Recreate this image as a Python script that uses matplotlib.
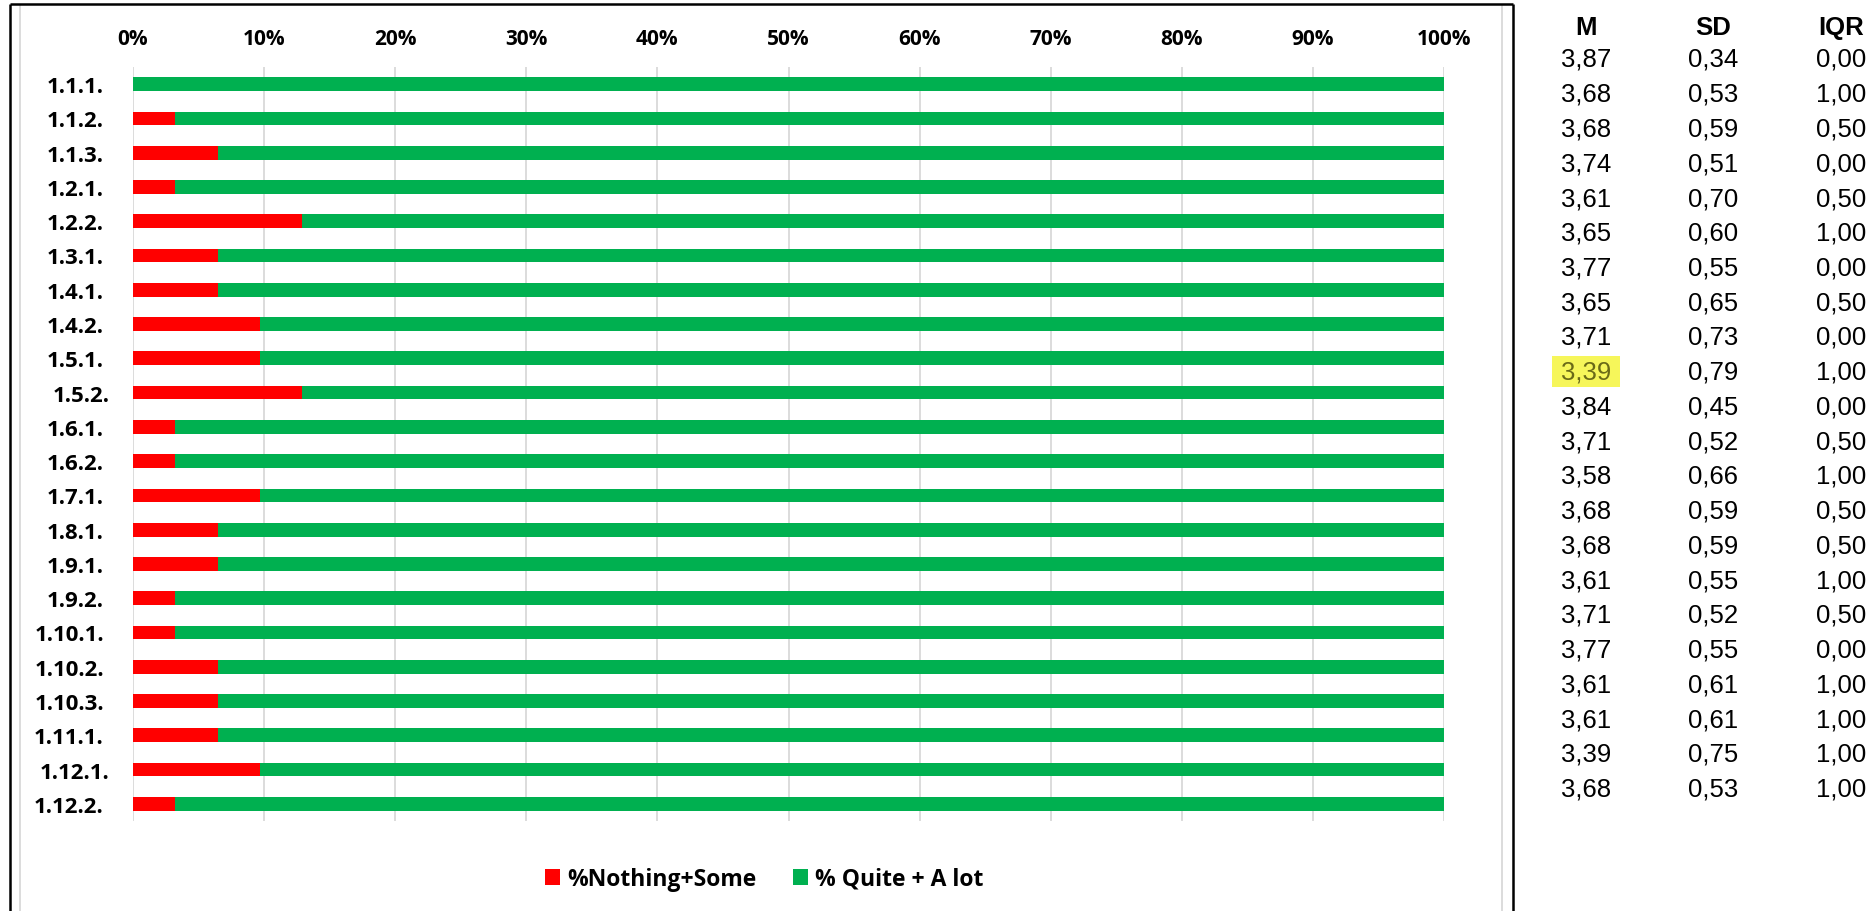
import numpy as np
import matplotlib
matplotlib.use("Agg")
import matplotlib.pyplot as plt
from matplotlib.lines import Line2D
from matplotlib.patches import Rectangle
from matplotlib.transforms import ScaledTranslation

# data (N = 31 answers per item)
items = ['1.1.1.', '1.1.2.', '1.1.3.', '1.2.1.', '1.2.2.', '1.3.1.', '1.4.1.', '1.4.2.',
         '1.5.1.', '1.5.2.', '1.6.1.', '1.6.2.', '1.7.1.', '1.8.1.', '1.9.1.', '1.9.2.',
         '1.10.1.', '1.10.2.', '1.10.3.', '1.11.1.', '1.12.1.', '1.12.2.']
nothingSome = [0.0, 3.2, 6.5, 3.2, 12.9, 6.5, 6.5, 9.7, 9.7, 12.9, 3.2, 3.2,
               9.7, 6.5, 6.5, 3.2, 3.2, 6.5, 6.5, 6.5, 9.7, 3.2]
quiteAlot = [100.0, 96.8, 93.5, 96.8, 87.1, 93.5, 93.5, 90.3, 90.3, 87.1, 96.8, 96.8,
             90.3, 93.5, 93.5, 96.8, 96.8, 93.5, 93.5, 93.5, 90.3, 96.8]
meanList = [3.87, 3.68, 3.68, 3.74, 3.61, 3.65, 3.77, 3.65, 3.71, 3.39, 3.84,
            3.71, 3.58, 3.68, 3.68, 3.61, 3.71, 3.77, 3.61, 3.61, 3.39, 3.68]
sdList = [0.34, 0.53, 0.59, 0.51, 0.70, 0.60, 0.55, 0.65, 0.73, 0.79, 0.45,
          0.52, 0.66, 0.59, 0.59, 0.55, 0.52, 0.55, 0.61, 0.61, 0.75, 0.53]
iqrList = [0.00, 1.00, 0.50, 0.00, 0.50, 1.00, 0.00, 0.50, 0.00, 1.00, 0.00,
           0.50, 1.00, 0.50, 0.50, 1.00, 0.50, 0.00, 1.00, 1.00, 1.00, 1.00]
colHeaders = ['M', 'SD', 'IQR']
highlightRow = 9
xticks = np.arange(0, 101, 10)

W, H = 1867, 912
DPI = 100
BOLD = 'Open Sans'
RED = '#ff0000'
GREEN = '#00b050'
GRID = '#d9d9d9'

fig = plt.figure(figsize=[W / DPI, H / DPI], dpi=DPI)

# bar chart, placed in pixels
ax = fig.add_axes([133 / W, 1 - 822 / H, 1311 / W, 754 / H])
y = np.arange(len(items))
b1 = ax.barh(y, nothingSome, height=0.4, color=RED, label='%Nothing+Some')
b2 = ax.barh(y, quiteAlot, left=nothingSome, height=0.4, color=GREEN, label='% Quite + A lot')
ax.set_xlim(0, 100)
ax.set_ylim(len(items) - 0.5, -0.5)
ax.set_xticks(xticks)
ax.set_xticklabels(["{}%".format(t) for t in xticks], fontfamily=BOLD, fontweight='bold', fontsize=15)
ax.set_yticks(y)
ax.set_yticklabels(items, fontfamily=BOLD, fontweight='bold', fontsize=16)
ax.xaxis.tick_top()
ax.tick_params(axis='x', length=0, pad=13)
ax.tick_params(axis='y', length=0, pad=21)
ax.grid(axis='x', color=GRID, linewidth=1.3)
ax.set_axisbelow(True)
for s in ax.spines.values():
    s.set_visible(False)
# two labels sit a bit to the right in the original
for lab in ax.get_yticklabels():
    if lab.get_text() in ('1.5.2.', '1.12.1.'):
        lab.set_transform(lab.get_transform() + ScaledTranslation(6 / DPI, 0, fig.dpi_scale_trans))

fig.legend(handles=[b1, b2], loc='center', bbox_to_anchor=(764 / W, 1 - 880 / H), ncol=2,
           frameon=False, prop={'family': BOLD, 'weight': 'bold', 'size': 16.5},
           handlelength=0.66, handleheight=0.66, handletextpad=0.3, columnspacing=1.6)

# stats table on the right
tx = fig.add_axes([1513 / W, 0, (W - 1513) / W, 1])
tx.set_xlim(1513, W)
rowStep = 34.75
row0 = 60
tx.set_ylim((H - row0) / rowStep, -row0 / rowStep)
tx.axis('off')
colX = [1586, 1713, 1841]
for j, head in enumerate(colHeaders):
    tx.text(colX[j], -0.92, head, ha='center', va='center', fontsize=18.5,
            fontweight='bold', fontfamily='Liberation Sans')
for i in range(len(items)):
    vals = [meanList[i], sdList[i], iqrList[i]]
    for j, v in enumerate(vals):
        c = 'black'
        if i == highlightRow and j == 0:
            c = '#6a6a18'
        tx.text(colX[j], i, "{:.2f}".format(v).replace('.', ','), ha='center', va='center',
                fontsize=18.5, fontfamily='Liberation Sans', color=c)
tx.add_patch(Rectangle((colX[0] - 34, highlightRow - 0.44), 68, 0.88,
                       facecolor='#f6f65a', edgecolor='none', zorder=0))

# frame lines of the original sheet
def fline(x0, y0, x1, y1, color, lw):
    fig.add_artist(Line2D([x0 / W, x1 / W], [1 - y0 / H, 1 - y1 / H],
                          transform=fig.transFigure, color=color, linewidth=lw,
                          solid_capstyle='butt'))

fline(20, 6, 20, H, GRID, 1.3)
fline(1502, 6, 1502, H, GRID, 1.3)
fline(10, 5, 1513, 5, 'black', 1.8)
fline(10, 5, 10, H, 'black', 1.8)
fline(1513, 5, 1513, H, 'black', 1.8)

fig.savefig("out.png", dpi=DPI)
